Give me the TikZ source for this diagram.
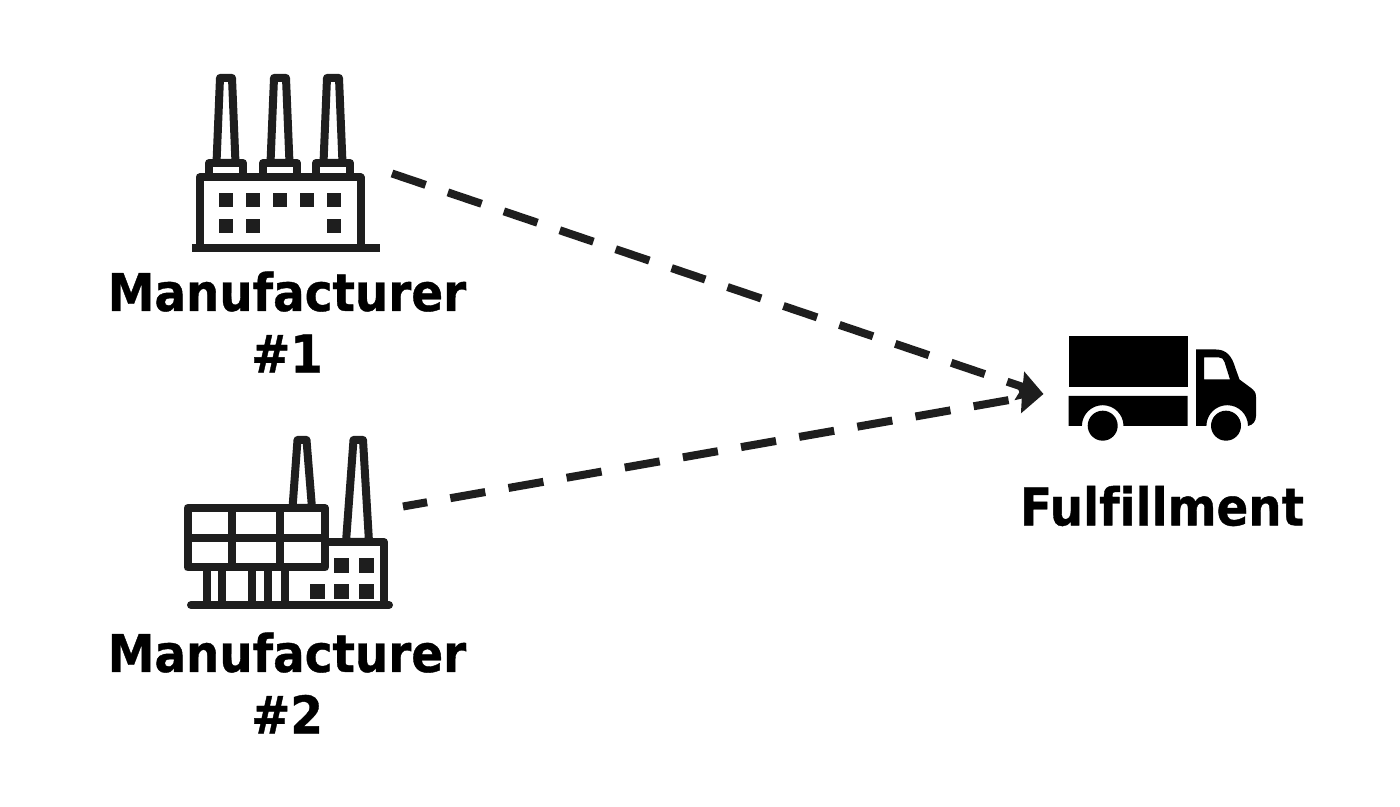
\documentclass[tikz,border=0pt]{standalone}
\usepackage{fontspec}
\setmainfont{DejaVu Sans}
\newfontfamily\captionfont{DejaVu Sans}[Ligatures=NoCommon,BoldFeatures={FakeBold=0.7,FakeStretch=0.9}]
\usetikzlibrary{arrows.meta}
\definecolor{ink}{HTML}{1E1E1E}
\tikzset{
  icon/.style={draw=ink,line width=0.08cm,line join=round,fill=white},
  window/.style={fill=ink,draw=none},
  caption/.style={font=\fontsize{14.8}{17.5}\captionfont\bfseries,align=center,text=black,inner sep=0pt},
  flow/.style={draw=ink,line width=0.08cm,dash pattern=on 0.355cm off 0.235cm,
    -{Stealth[inset=0.03cm,length=0.25cm,width=0.29cm]}}
}
\begin{document}
\begin{tikzpicture}[x=0.01cm,y=-0.01cm]
  \useasboundingbox (0,0) rectangle (1400,807);
  % first factory
  \foreach \i in {226,280,333}
  {
    \draw[icon] (\i-6,78) -- (\i+6,78) -- (\i+9.5,163) -- (\i-9.5,163) -- cycle;
    \draw[icon] (\i-17,178) -- (\i-17,163) -- (\i+17,163) -- (\i+17,178);
  }
  \draw[icon] (199.5,248) -- (199.5,177.5) -- (360.5,177.5) -- (360.5,248);
  \draw[icon,line cap=butt] (192,248) -- (380,248);
  \foreach \i in {218.5,245.5,272.5,300,327}
  {
    \fill[window] (\i,193) rectangle +(14,14);
  }
  \foreach \i in {218.5,245.5,327}
  {
    \fill[window] (\i,219.5) rectangle +(14,14);
  }
  % second factory
  \draw[icon] (297.5,440) -- (306.5,440) -- (312,508) -- (292.5,508) -- cycle;
  \draw[icon] (353.5,440) -- (363,440) -- (369,542) -- (346,542) -- cycle;
  \draw[icon] (325,542) -- (384,542) -- (384,605);
  \draw[icon,fill=none] (187.5,508) rectangle (325,567.5);
  \draw[icon,fill=none] (187.5,537.7) -- (325,537.7);
  \foreach \i in {232,279.5}
  {
    \draw[icon,fill=none] (\i,508) -- (\i,567.5);
  }
  \foreach \i in {206.5,222,251.5,267.5,284.5}
  {
    \draw[icon,fill=none] (\i,567.5) -- (\i,605);
  }
  \draw[icon,line cap=round] (191,605) -- (389,605);
  \foreach \i in {334,358.5}
  {
    \fill[window] (\i,558) rectangle +(15,15);
  }
  \foreach \i in {310,334,358.5}
  {
    \fill[window] (\i,584) rectangle +(15,15);
  }
  % truck
  \fill[black] (1068.5,336) rectangle (1187.5,387.5);
  \fill[black] (1068.5,396) -- (1187.5,396) -- (1187.5,426) -- (1123.5,426)
    arc[start angle=0,end angle=-180,radius=20.8] -- (1068.5,426) -- cycle;
  \fill[black,even odd rule] (1196,349.5) -- (1216,349.5) .. controls (1227,349.5) and (1232,357) .. (1235,367)
    -- (1239.5,379.5) -- (1251,388) .. controls (1254,390.5) and (1256,392) .. (1256,397)
    -- (1256,416) .. controls (1256,421) and (1253,425) .. (1248,426)
    arc[start angle=0,end angle=-180,radius=20.8] -- (1196,426) -- cycle
    (1204,357.5) -- (1219,357.5) .. controls (1222,357.5) and (1223.5,359) .. (1224.5,362)
    -- (1230,379.5) -- (1204,379.5) -- cycle;
  \fill[black] (1102.7,425.7) circle (15);
  \fill[black] (1226,425.7) circle (15);
  % labels
  \node[caption] (maker1) at (287,322) {Manufacturer\\\#1};
  \node[caption] (maker2) at (287,683) {Manufacturer\\\#2};
  \node[caption] (fulfil) at (1162,506) {Fulfillment};
  % connectors
  \coordinate (out1) at (392,173.5);
  \coordinate (out2) at (403,506.5);
  \coordinate (truck) at (1043.5,394);
  \draw[flow] (out1) -- (truck);
  \draw[flow,dash phase=0.11cm] (out2) -- (truck);
\end{tikzpicture}
\end{document}
